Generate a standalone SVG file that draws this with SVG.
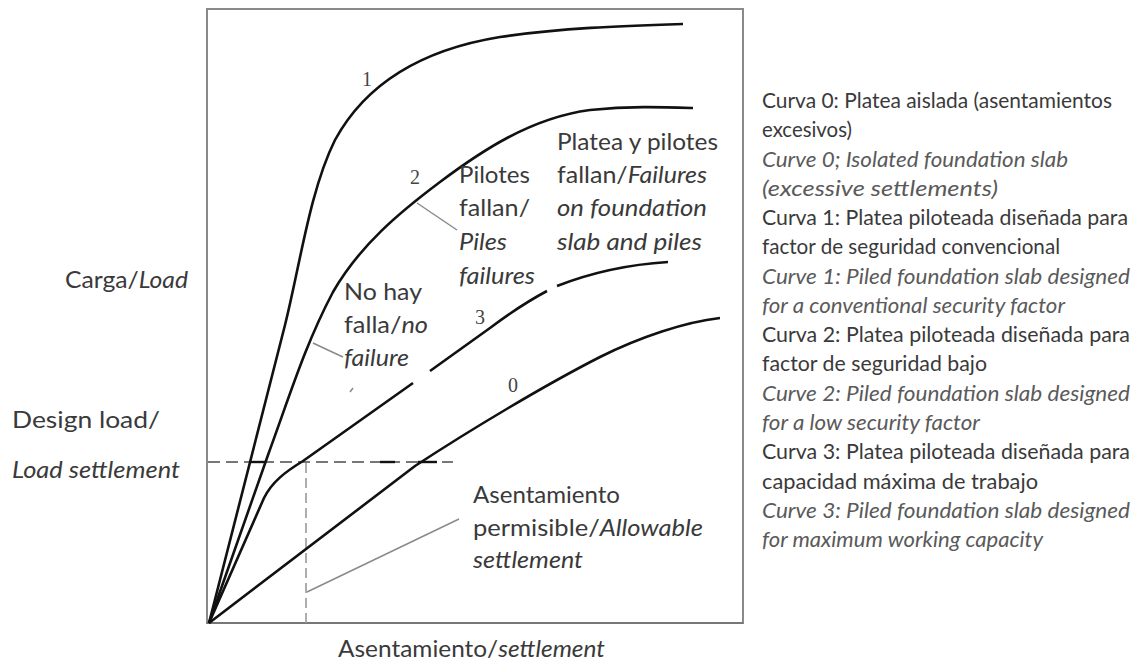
<svg xmlns="http://www.w3.org/2000/svg" width="1144" height="662" viewBox="0 0 1144 662">
<style>
text{font-family:Lato,"Liberation Sans",sans-serif;fill:#3a3a3a}
.lbl{font-size:24px}
.leg{font-size:21px}
.it{font-style:italic}
.legit{font-style:italic;fill:#5a5a5a}
.num{font-family:"Liberation Serif",serif;font-size:20px;fill:#444}
.curve{fill:none;stroke:#111;stroke-width:2.6;stroke-linecap:butt;stroke-linejoin:round}
.lead{fill:none;stroke:#8a8a8a;stroke-width:1.5}
</style>
<rect width="1144" height="662" fill="#fff"/>
<g id="frame">
<rect x="207" y="9" width="536" height="614" fill="none" stroke="#8a8a8a" stroke-width="2"/>
<line x1="207" y1="623" x2="743" y2="623" stroke="#777" stroke-width="2.2"/>
</g>
<g id="reference-lines">
<line x1="208" y1="462" x2="453" y2="462" stroke="#777" stroke-width="2" stroke-dasharray="12 6"/>
<line x1="250" y1="462" x2="266" y2="462" stroke="#111" stroke-width="2.4"/>
<line x1="380" y1="462" x2="395" y2="462" stroke="#111" stroke-width="2.4"/>
<line x1="418" y1="462" x2="437" y2="462" stroke="#111" stroke-width="2.4"/>
<line x1="306" y1="463" x2="306" y2="623" stroke="#999" stroke-width="1.6" stroke-dasharray="10 5"/>
</g>
<g id="connectors">
<path id="curve-1" class="curve" d="M209,623 L285,325 C300,265 310,190 335,140 C365,85 420,50 500,37 C560,28 620,26 683,24"/>
<path id="curve-2" class="curve" d="M209,623 L268,455 C290,395 305,345 333,292 C360,245 400,212 440,182 C480,152 530,118 590,110 C630,106 660,107 693,108"/>
<path id="curve-3" class="curve" d="M209,623 L264,498 C272,482 285,472 303,461 L413,383 M430,371 L490,328 C510,313 530,300 547,291 M557,286 C580,277 620,265 668,262"/>
<path id="curve-0" class="curve" d="M209,623 L415,466 C470,430 545,385 600,357 C640,337 685,322 720,318"/>
<path class="lead" d="M417,203 L457,230"/>
<path class="lead" d="M313,343 L330,351 L343,357"/>
<path class="lead" d="M307,592 L459,519"/>
<path class="lead" d="M350,392 L353,388"/>
</g>
<g id="curve-numbers">
<text class="num" x="367" y="86" text-anchor="middle">1</text>
<text class="num" x="415" y="184" text-anchor="middle">2</text>
<text class="num" x="480" y="324" text-anchor="middle">3</text>
<text class="num" x="513" y="392" text-anchor="middle">0</text>
</g>
<g id="label-platea">
<text class="lbl" x="557" y="150" textLength="161" lengthAdjust="spacingAndGlyphs">Platea y pilotes</text>
<text class="lbl" x="557" y="183" textLength="150" lengthAdjust="spacingAndGlyphs">fallan/<tspan class="it">Failures</tspan></text>
<text class="lbl it" x="557" y="216" textLength="150" lengthAdjust="spacingAndGlyphs">on foundation</text>
<text class="lbl it" x="557" y="250" textLength="145" lengthAdjust="spacingAndGlyphs">slab and piles</text>
</g>
<g id="label-pilotes">
<text class="lbl" x="459" y="183" textLength="71" lengthAdjust="spacingAndGlyphs">Pilotes</text>
<text class="lbl" x="459" y="216" textLength="71" lengthAdjust="spacingAndGlyphs">fallan/</text>
<text class="lbl it" x="459" y="250" textLength="48" lengthAdjust="spacingAndGlyphs">Piles</text>
<text class="lbl it" x="459" y="284" textLength="76" lengthAdjust="spacingAndGlyphs">failures</text>
</g>
<g id="label-nohay">
<text class="lbl" x="344" y="300" textLength="78" lengthAdjust="spacingAndGlyphs">No hay</text>
<text class="lbl" x="344" y="333" textLength="84" lengthAdjust="spacingAndGlyphs">falla/<tspan class="it">no</tspan></text>
<text class="lbl it" x="344" y="366" textLength="65" lengthAdjust="spacingAndGlyphs">failure</text>
</g>
<g id="label-asentamiento">
<text class="lbl" x="473" y="503" textLength="147" lengthAdjust="spacingAndGlyphs">Asentamiento</text>
<text class="lbl" x="473" y="536" textLength="230" lengthAdjust="spacingAndGlyphs">permisible/<tspan class="it">Allowable</tspan></text>
<text class="lbl it" x="473" y="568" textLength="110" lengthAdjust="spacingAndGlyphs">settlement</text>
</g>
<g id="axis-labels">
<text class="lbl" x="338" y="657" textLength="267" lengthAdjust="spacingAndGlyphs">Asentamiento/<tspan class="it">settlement</tspan></text>
<text class="lbl" x="65" y="288" textLength="123" lengthAdjust="spacingAndGlyphs">Carga/<tspan class="it">Load</tspan></text>
<text class="lbl" x="12" y="428" textLength="148" lengthAdjust="spacingAndGlyphs">Design load/</text>
<text class="lbl it" x="12" y="478" textLength="168" lengthAdjust="spacingAndGlyphs">Load settlement</text>
</g>
<g id="legend">
<text class="leg" x="762" y="108" textLength="350" lengthAdjust="spacingAndGlyphs">Curva 0: Platea aislada (asentamientos</text>
<text class="leg" x="762" y="137.3" textLength="90" lengthAdjust="spacingAndGlyphs">excesivos)</text>
<text class="leg legit" x="762" y="166.5" textLength="306" lengthAdjust="spacingAndGlyphs">Curve 0; Isolated foundation slab</text>
<text class="leg legit" x="762" y="195.8" textLength="236" lengthAdjust="spacingAndGlyphs">(excessive settlements)</text>
<text class="leg" x="762" y="225.1" textLength="366" lengthAdjust="spacingAndGlyphs">Curva 1: Platea piloteada diseñada para</text>
<text class="leg" x="762" y="254.3" textLength="298" lengthAdjust="spacingAndGlyphs">factor de seguridad convencional</text>
<text class="leg legit" x="762" y="283.6" textLength="368" lengthAdjust="spacingAndGlyphs">Curve 1: Piled foundation slab designed</text>
<text class="leg legit" x="762" y="312.9" textLength="303" lengthAdjust="spacingAndGlyphs">for a conventional security factor</text>
<text class="leg" x="762" y="342.2" textLength="368" lengthAdjust="spacingAndGlyphs">Curva 2: Platea piloteada diseñada para</text>
<text class="leg" x="762" y="371.4" textLength="225" lengthAdjust="spacingAndGlyphs">factor de seguridad bajo</text>
<text class="leg legit" x="762" y="400.7" textLength="368" lengthAdjust="spacingAndGlyphs">Curve 2: Piled foundation slab designed</text>
<text class="leg legit" x="762" y="430" textLength="218" lengthAdjust="spacingAndGlyphs">for a low security factor</text>
<text class="leg" x="762" y="459.2" textLength="368" lengthAdjust="spacingAndGlyphs">Curva 3: Platea piloteada diseñada para</text>
<text class="leg" x="762" y="488.5" textLength="276" lengthAdjust="spacingAndGlyphs">capacidad máxima de trabajo</text>
<text class="leg legit" x="762" y="517.8" textLength="368" lengthAdjust="spacingAndGlyphs">Curve 3: Piled foundation slab designed</text>
<text class="leg legit" x="762" y="547" textLength="281" lengthAdjust="spacingAndGlyphs">for maximum working capacity</text>
</g>
</svg>
